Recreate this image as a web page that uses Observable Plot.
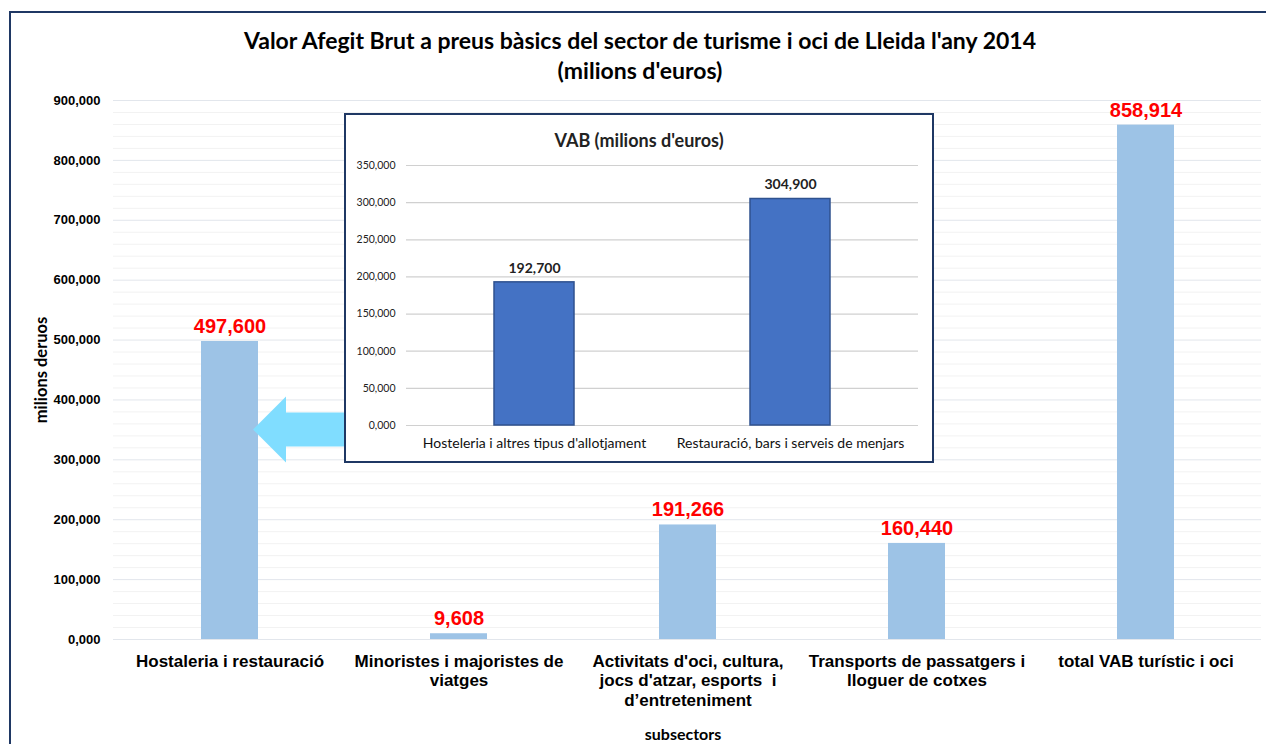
<!DOCTYPE html>
<html>
<head>
<meta charset="utf-8">
<script src="https://cdn.jsdelivr.net/npm/d3@7"></script>
<script src="https://cdn.jsdelivr.net/npm/@observablehq/plot@0.6"></script>
<style>
  html, body { margin: 0; padding: 0; background: #fff; }
  #wrap { position: relative; width: 1266px; height: 744px; overflow: hidden; background: #fff; }
  .frame { position: absolute; left: 9px; top: 11px; width: 1300px; height: 800px; border: 2px solid #1F3864; }
  .title { position: absolute; left: 90px; top: 25px; width: 1100px; text-align: center;
           font-family: Lato, "Open Sans", sans-serif; font-weight: bold; font-size: 23px; line-height: 30px; color: #000; }
  .ytitle { position: absolute; left: 41px; top: 370px; transform: translate(-50%, -50%) rotate(-90deg);
            font-family: Lato, sans-serif; font-weight: bold; font-size: 16.5px; white-space: nowrap; }
  .xtitle { position: absolute; left: 683px; top: 734px; transform: translate(-50%, -50%);
            font-family: Lato, sans-serif; font-weight: bold; font-size: 16px; line-height: 16px; white-space: nowrap; }
  #main { position: absolute; left: 0; top: 0; }
  #inset { position: absolute; left: 344px; top: 113px; width: 590px; height: 350px; box-sizing: border-box;
           border: 2px solid #1F3864; background: #fff; }
  .insetTitle { position: absolute; left: 0; width: 586px; top: 25px; transform: translateY(-50%); text-align: center;
                font-family: Lato, sans-serif; font-weight: bold; font-size: 18px; color: #222; }
  #insetPlot { position: absolute; left: 0; top: 0; }
</style>
</head>
<body>
<div id="wrap">
  <div class="frame"></div>
  <div class="title">Valor Afegit Brut a preus bàsics del sector de turisme i oci de Lleida l'any 2014<br>(milions d'euros)</div>
  <div id="main"></div>
  <div class="ytitle">milions deruos</div>
  <div class="xtitle">subsectors</div>
  <div id="inset">
    <div id="insetPlot"></div>
    <div class="insetTitle">VAB (milions d'euros)</div>
  </div>
</div>
<script>
// ---- data ----
const categories = [
  "Hostaleria i restauració",
  "Minoristes i majoristes de\nviatges",
  "Activitats d'oci, cultura,\njocs d'atzar, esports  i\nd’entreteniment",
  "Transports de passatgers i\nlloguer de cotxes",
  "total VAB turístic i oci"
];
const values = [497.6, 9.608, 191.266, 160.44, 858.914];
const yTicks = [0, 100, 200, 300, 400, 500, 600, 700, 800, 900];
const yMinor = [20, 40, 60, 80, 120, 140, 160, 180, 220, 240, 260, 280, 320, 340, 360, 380, 420, 440, 460, 480,
                520, 540, 560, 580, 620, 640, 660, 680, 720, 740, 760, 780, 820, 840, 860, 880];

const insetCategories = ["Hosteleria i altres tipus d'allotjament", "Restauració, bars i serveis de menjars"];
const insetValues = [192.7, 304.9];
const insetTicks = [0, 50, 100, 150, 200, 250, 300, 350];

const arrowValue = 350; // value on main y-axis the arrow points at

// ---- format: comma decimal, 3 decimals ----
const fmt = d3.formatLocale({decimal: ",", thousands: ".", grouping: [3], currency: ["", ""]}).format(".3f");

const data = categories.map((c, i) => ({cat: c, value: values[i]}));
const insetData = insetCategories.map((c, i) => ({cat: c, value: insetValues[i]}));

const main = Plot.plot({
  width: 1266, height: 744,
  marginTop: 100, marginBottom: 105, marginLeft: 113, marginRight: 5,
  style: {background: "transparent", overflow: "visible", fontFamily: "Arial, 'Liberation Sans', sans-serif", color: "#000"},
  x: {domain: categories, paddingInner: 0.752, paddingOuter: 0.376, label: null},
  y: {domain: [0, 900], label: null},
  marks: [
    Plot.ruleY(yMinor, {stroke: "#F2F2F2", strokeWidth: 1}),
    Plot.ruleY(yTicks, {stroke: "#E2E6EC", strokeWidth: 1}),
    Plot.barY(data, {x: "cat", y: "value", fill: "#9DC3E6"}),
    Plot.text(data, {x: "cat", y: "value", text: d => fmt(d.value), dy: -15, fill: "#FF0000",
                     fontSize: 20, fontWeight: "bold"}),
    Plot.axisY({ticks: yTicks, tickFormat: fmt, tickSize: 0, tickPadding: 13, fontSize: 13,
                fontWeight: "bold", fill: "#000", label: null}),
    Plot.axisX({tickSize: 0, tickPadding: 14, fontSize: 17, fontWeight: "bold", lineHeight: 1.13,
                fill: "#000", label: null})
  ]
});
document.getElementById("main").appendChild(main);

// arrow pointing at first bar, positioned through Plot's scales
(function () {
  const sx = main.scale("x"), sy = main.scale("y");
  const tipX = sx.apply(categories[0]) + sx.bandwidth - 5;
  const tipY = sy.apply(arrowValue);
  const head = 33, shaft = 17, endX = 350;
  const pts = [
    [tipX, tipY], [tipX + head, tipY - head], [tipX + head, tipY - shaft], [endX, tipY - shaft],
    [endX, tipY + shaft], [tipX + head, tipY + shaft], [tipX + head, tipY + head]
  ];
  d3.select(main).append("polygon")
    .attr("points", pts.map(p => p.join(",")).join(" "))
    .attr("fill", "#80DDFF");
})();

const inset = Plot.plot({
  width: 586, height: 346,
  marginTop: 50, marginBottom: 36, marginLeft: 60, marginRight: 14,
  style: {background: "transparent", overflow: "visible", fontFamily: "Lato, 'Open Sans', sans-serif", color: "#000"},
  x: {domain: insetCategories, paddingInner: 0.6875, paddingOuter: 0.34375, label: null},
  y: {domain: [0, 350], label: null},
  marks: [
    Plot.ruleY(insetTicks, {stroke: "#D0D0D0", strokeWidth: 1.2}),
    Plot.barY(insetData, {x: "cat", y: "value", fill: "#4472C4", stroke: "#2F528F", strokeWidth: 1.5}),
    Plot.text(insetData, {x: "cat", y: "value", text: d => fmt(d.value), dy: -14, fill: "#222",
                          fontSize: 14, fontWeight: "bold"}),
    Plot.axisY({ticks: insetTicks, tickFormat: fmt, tickSize: 0, tickPadding: 11, fontSize: 10.5,
                fill: "#222", label: null}),
    Plot.axisX({tickSize: 0, tickPadding: 13, fontSize: 14, fill: "#111", label: null})
  ]
});
document.getElementById("insetPlot").appendChild(inset);
</script>
</body>
</html>
